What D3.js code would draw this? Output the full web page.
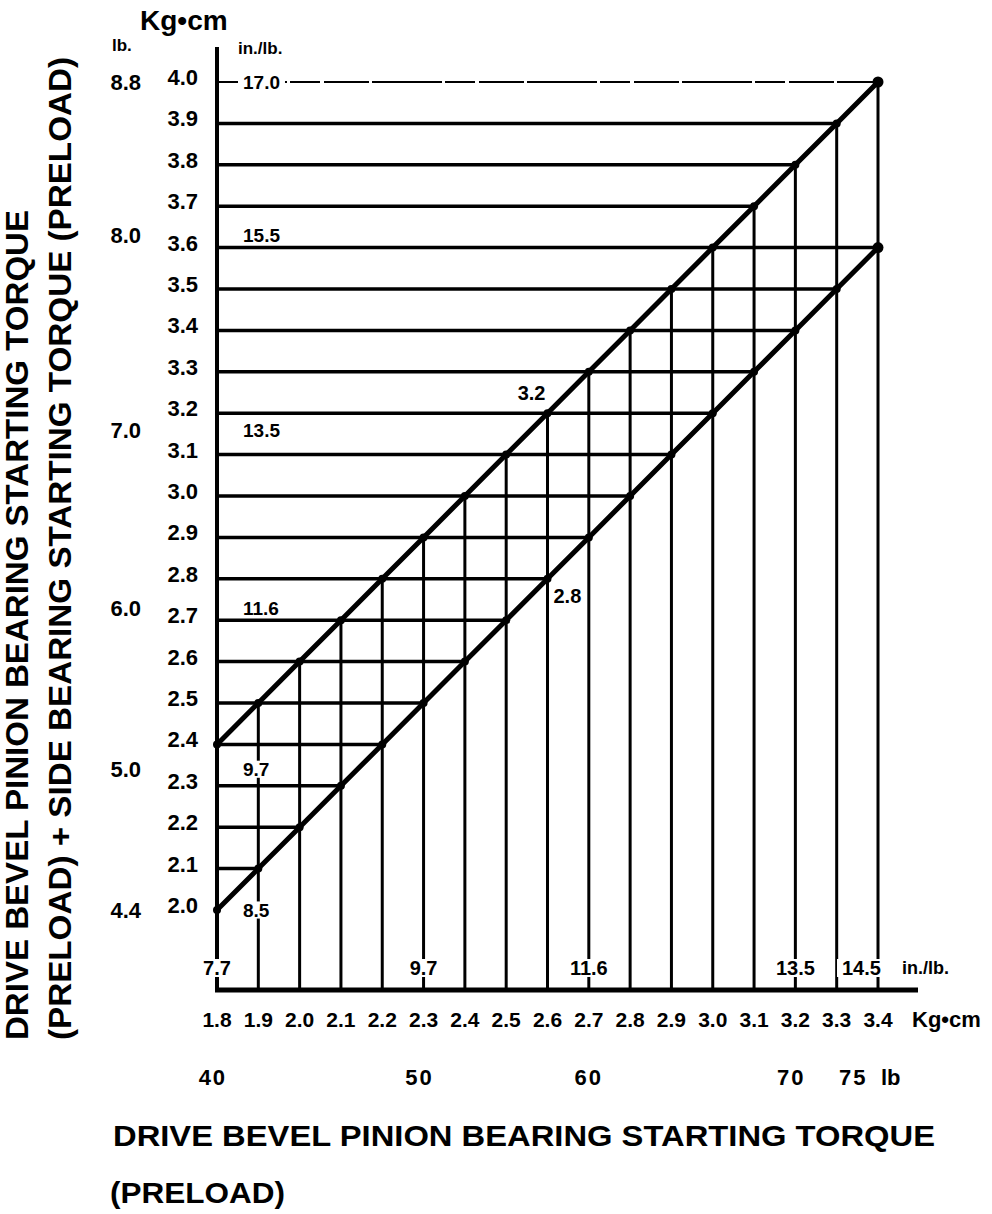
<!DOCTYPE html>
<html>
<head>
<meta charset="utf-8">
<script src="https://cdn.jsdelivr.net/npm/d3@7"></script>
<style>
  body { margin: 0; background: #fff; }
  svg { display: block; background: #fff; }
  text { font-family: "Liberation Sans", Arial, sans-serif; font-weight: bold; fill: #000; }
</style>
</head>
<body>
<svg width="992" height="1214"></svg>
<script>
// kg-cm grid (x: preload, y: preload + side bearing)
const kgX = [1.8, 1.9, 2.0, 2.1, 2.2, 2.3, 2.4, 2.5, 2.6, 2.7, 2.8, 2.9, 3.0, 3.1, 3.2, 3.3, 3.4];
const kgY = [2.0, 2.1, 2.2, 2.3, 2.4, 2.5, 2.6, 2.7, 2.8, 2.9, 3.0, 3.1, 3.2, 3.3, 3.4, 3.5, 3.6, 3.7, 3.8, 3.9, 4.0];

// the two limit lines, one value per kgX
const upperY = [2.4, 2.5, 2.6, 2.7, 2.8, 2.9, 3.0, 3.1, 3.2, 3.3, 3.4, 3.5, 3.6, 3.7, 3.8, 3.9, 4.0];
const lowerY = [2.0, 2.1, 2.2, 2.3, 2.4, 2.5, 2.6, 2.7, 2.8, 2.9, 3.0, 3.1, 3.2, 3.3, 3.4, 3.5, 3.6];

// left side secondary scales
const lbLabels = ['8.8', '8.0', '7.0', '6.0', '5.0', '4.4'];
const inLbLabels = ['17.0', '15.5', '13.5', '11.6', '9.7', '8.5'];
const rowAt = [4.0, 3.63, 3.16, 2.73, 2.34, 2.0];

// bottom secondary scales
const inLbBottom = ['7.7', '9.7', '11.6', '13.5', '14.5'];
const inLbBottomAt = [1.8, 2.3, 2.7, 3.2, 3.36];
const lbBottom = ['40', '50', '60', '70', '75'];
const lbBottomAt = [1.79, 2.29, 2.70, 3.19, 3.34];

// callouts on the lines
const callouts = [
  { label: '3.2', x: 2.6, y: 3.25, side: 'left' },
  { label: '2.8', x: 2.6, y: 2.76, side: 'right' }
];

const titleLeft1 = 'DRIVE BEVEL PINION BEARING STARTING TORQUE';
const titleLeft2 = '(PRELOAD) + SIDE BEARING STARTING TORQUE (PRELOAD)';
const titleBottom1 = 'DRIVE BEVEL PINION BEARING STARTING TORQUE';
const titleBottom2 = '(PRELOAD)';

const svg = d3.select('svg');
const x = d3.scaleLinear().domain([1.8, 3.4]).range([217, 878]);
const y = d3.scaleLinear().domain([2.0, 4.0]).range([910, 82]);
const baseY = 990;

const grid = svg.append('g');
const labels = svg.append('g');

// horizontal lines run to the lower line, or to the upper one above it
const hLines = kgY.filter(v => v > 2.0).map(v => {
  let i = lowerY.indexOf(v);
  if (i < 0) i = upperY.indexOf(v);
  return { v: v, end: kgX[i] };
});

grid.selectAll('line.h').data(hLines).enter()
    .append('line')
    .attr('x1', x(1.8))
    .attr('x2', d => x(d.end))
    .attr('y1', d => y(d.v))
    .attr('y2', d => y(d.v))
    .attr('stroke', '#000')
    .attr('stroke-width', d => d.v === 4.0 ? 2 : 3.5)
    .attr('stroke-dasharray', d => d.v === 4.0 ? '70,3,30,4,45,3' : null);

// vertical lines run from the base up to the upper line
grid.selectAll('line.v').data(kgX).enter()
    .append('line')
    .attr('x1', d => x(d))
    .attr('x2', d => x(d))
    .attr('y1', baseY)
    .attr('y2', (d, i) => y(upperY[i]))
    .attr('stroke', '#000')
    .attr('stroke-width', 3);

// axes
grid.append('line')
    .attr('x1', x(1.8)).attr('x2', x(1.8))
    .attr('y1', 47).attr('y2', baseY)
    .attr('stroke', '#000').attr('stroke-width', 4);
grid.append('line')
    .attr('x1', 215).attr('x2', 918)
    .attr('y1', baseY).attr('y2', baseY)
    .attr('stroke', '#000').attr('stroke-width', 5);

// limit lines with dots
const line = d3.line().x(d => x(d[0])).y(d => y(d[1]));
[upperY, lowerY].forEach(series => {
  const pts = kgX.map((v, i) => [v, series[i]]);
  grid.append('path')
      .attr('d', line(pts))
      .attr('fill', 'none')
      .attr('stroke', '#000')
      .attr('stroke-width', 5);
  grid.selectAll(null).data(pts).enter()
      .append('circle')
      .attr('cx', d => x(d[0]))
      .attr('cy', d => y(d[1]))
      .attr('r', (d, i) => i === pts.length - 1 ? 5.5 : 4)
      .attr('fill', '#000');
});

function addText(g, txt, px, py, size, anchor, bg) {
  const t = g.append('text')
      .attr('x', px)
      .attr('y', py)
      .attr('dy', '0.36em')
      .attr('font-size', size)
      .attr('text-anchor', anchor)
      .text(txt);
  if (bg) {
    const b = t.node().getBBox();
    g.insert('rect', 'text')
        .attr('x', b.x - 5)
        .attr('width', b.width + 10)
        .attr('y', py - size * 0.45)
        .attr('height', size * 0.9)
        .attr('fill', '#fff');
  }
  return t;
}

// kg-cm ticks on the left
kgY.forEach(v => addText(labels, v.toFixed(1), 198, y(v) - 5, 22, 'end', false));

// lb and in./lb. on the left
rowAt.forEach((v, i) => {
  addText(labels, lbLabels[i], 141, y(v), 22, 'end', false);
  addText(labels, inLbLabels[i], 243, y(v), 19, 'start', true);
});

// bottom rows
inLbBottom.forEach((l, i) => addText(labels, l, x(inLbBottomAt[i]), 968, 20, 'middle', true));
addText(labels, 'in./lb.', 902, 968, 18, 'start', false);

kgX.forEach(v => addText(labels, v.toFixed(1), x(v), 1019, 21, 'middle', false));
addText(labels, 'Kg•cm', 912, 1019, 22, 'start', false);

lbBottom.forEach((l, i) => addText(labels, l, x(lbBottomAt[i]), 1077, 22, 'middle', false)
    .attr('letter-spacing', 2));
addText(labels, 'lb', 881, 1077, 22, 'start', false);

// headings over the left scales
addText(labels, 'Kg•cm', 140, 20, 28, 'start', false);
addText(labels, 'lb.', 112, 45, 17, 'start', false);
addText(labels, 'in./lb.', 238, 48, 17, 'start', false);

// callouts
callouts.forEach(c => {
  addText(labels, c.label, c.side === 'left' ? x(c.x) - 2 : x(c.x) + 6, y(c.y), 20,
      c.side === 'left' ? 'end' : 'start', false);
});

// titles
svg.append('text')
    .attr('transform', 'translate(28,1040) rotate(-90)')
    .attr('font-size', 31)
    .attr('textLength', 830)
    .attr('lengthAdjust', 'spacingAndGlyphs')
    .text(titleLeft1);
svg.append('text')
    .attr('transform', 'translate(71,1040) rotate(-90)')
    .attr('font-size', 31)
    .attr('textLength', 983)
    .attr('lengthAdjust', 'spacingAndGlyphs')
    .text(titleLeft2);
svg.append('text')
    .attr('x', 113).attr('y', 1146)
    .attr('font-size', 30)
    .attr('textLength', 822)
    .attr('lengthAdjust', 'spacingAndGlyphs')
    .text(titleBottom1);
svg.append('text')
    .attr('x', 110).attr('y', 1203)
    .attr('font-size', 30)
    .attr('textLength', 175)
    .attr('lengthAdjust', 'spacingAndGlyphs')
    .text(titleBottom2);
</script>
</body>
</html>
